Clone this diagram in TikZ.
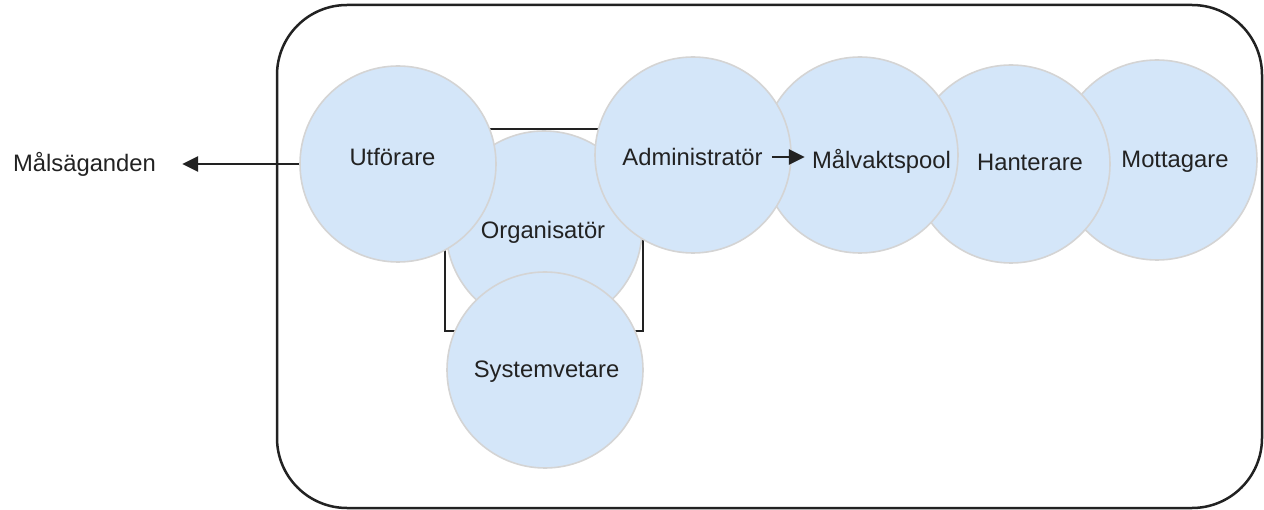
\documentclass[tikz,border=0pt]{standalone}
\usepackage{fontspec}
\setmainfont{Liberation Sans}
\usetikzlibrary{arrows.meta}
\definecolor{bubble}{RGB}{212,230,249}
\definecolor{rimgray}{RGB}{212,212,212}
\definecolor{ink}{RGB}{34,34,34}
\tikzset{
  bubble/.style={circle, draw=rimgray, line width=1.6pt, fill=bubble, inner sep=0pt},
  lbl/.style={inner sep=0pt, text=ink, font=\fontsize{23.8}{28}\selectfont},
  arr/.style={draw=ink, line width=2.5pt, -{Triangle[length=16pt,width=15pt]}},
}
\begin{document}
\begin{tikzpicture}[x=1pt,y=-1pt]
\useasboundingbox (0,0) rectangle (1264,510);
% outer rounded frame
\draw[ink, line width=2.5pt, rounded corners=70pt] (277,5) rectangle (1262,508);
% inner square frame
\draw[ink, line width=1.6pt] (445,129) rectangle (643,331);
% circles (back to front)
\node[bubble, minimum size=196pt] (cO) at (544,229) {};
\node[bubble, minimum size=196pt] (cU) at (398,164) {};
\node[bubble, minimum size=196pt] (cS) at (545,370) {};
\node[bubble, minimum size=200pt] (cMo) at (1157,160) {};
\node[bubble, minimum size=198pt] (cH) at (1011,164) {};
\node[bubble, minimum size=196pt] (cMv) at (860,155) {};
\node[bubble, minimum size=196pt] (cA) at (693,155) {};
% labels
\node[lbl] (tU) at (392.5,157) {Utförare};
\node[lbl] (tO) at (543,232) {Organisatör};
\node[lbl] (tS) at (546.5,372) {Systemvetare};
\node[lbl] (tA) at (692.5,157) {Administratör};
\node[lbl] (tMv) at (881.5,161) {Målvaktspool};
\node[lbl] (tH) at (1030,162) {Hanterare};
\node[lbl] (tMo) at (1175,162) {Mottagare};
\node[lbl] (tMs) at (84.5,164) {Målsäganden};
% connectors
\draw[arr, shorten >=26pt] (cU.west) -- (cU.west -| tMs.east);
\draw[arr, shorten <=9pt, shorten >=7pt] (tA.east) -- (tA.east -| tMv.west);
\end{tikzpicture}
\end{document}
